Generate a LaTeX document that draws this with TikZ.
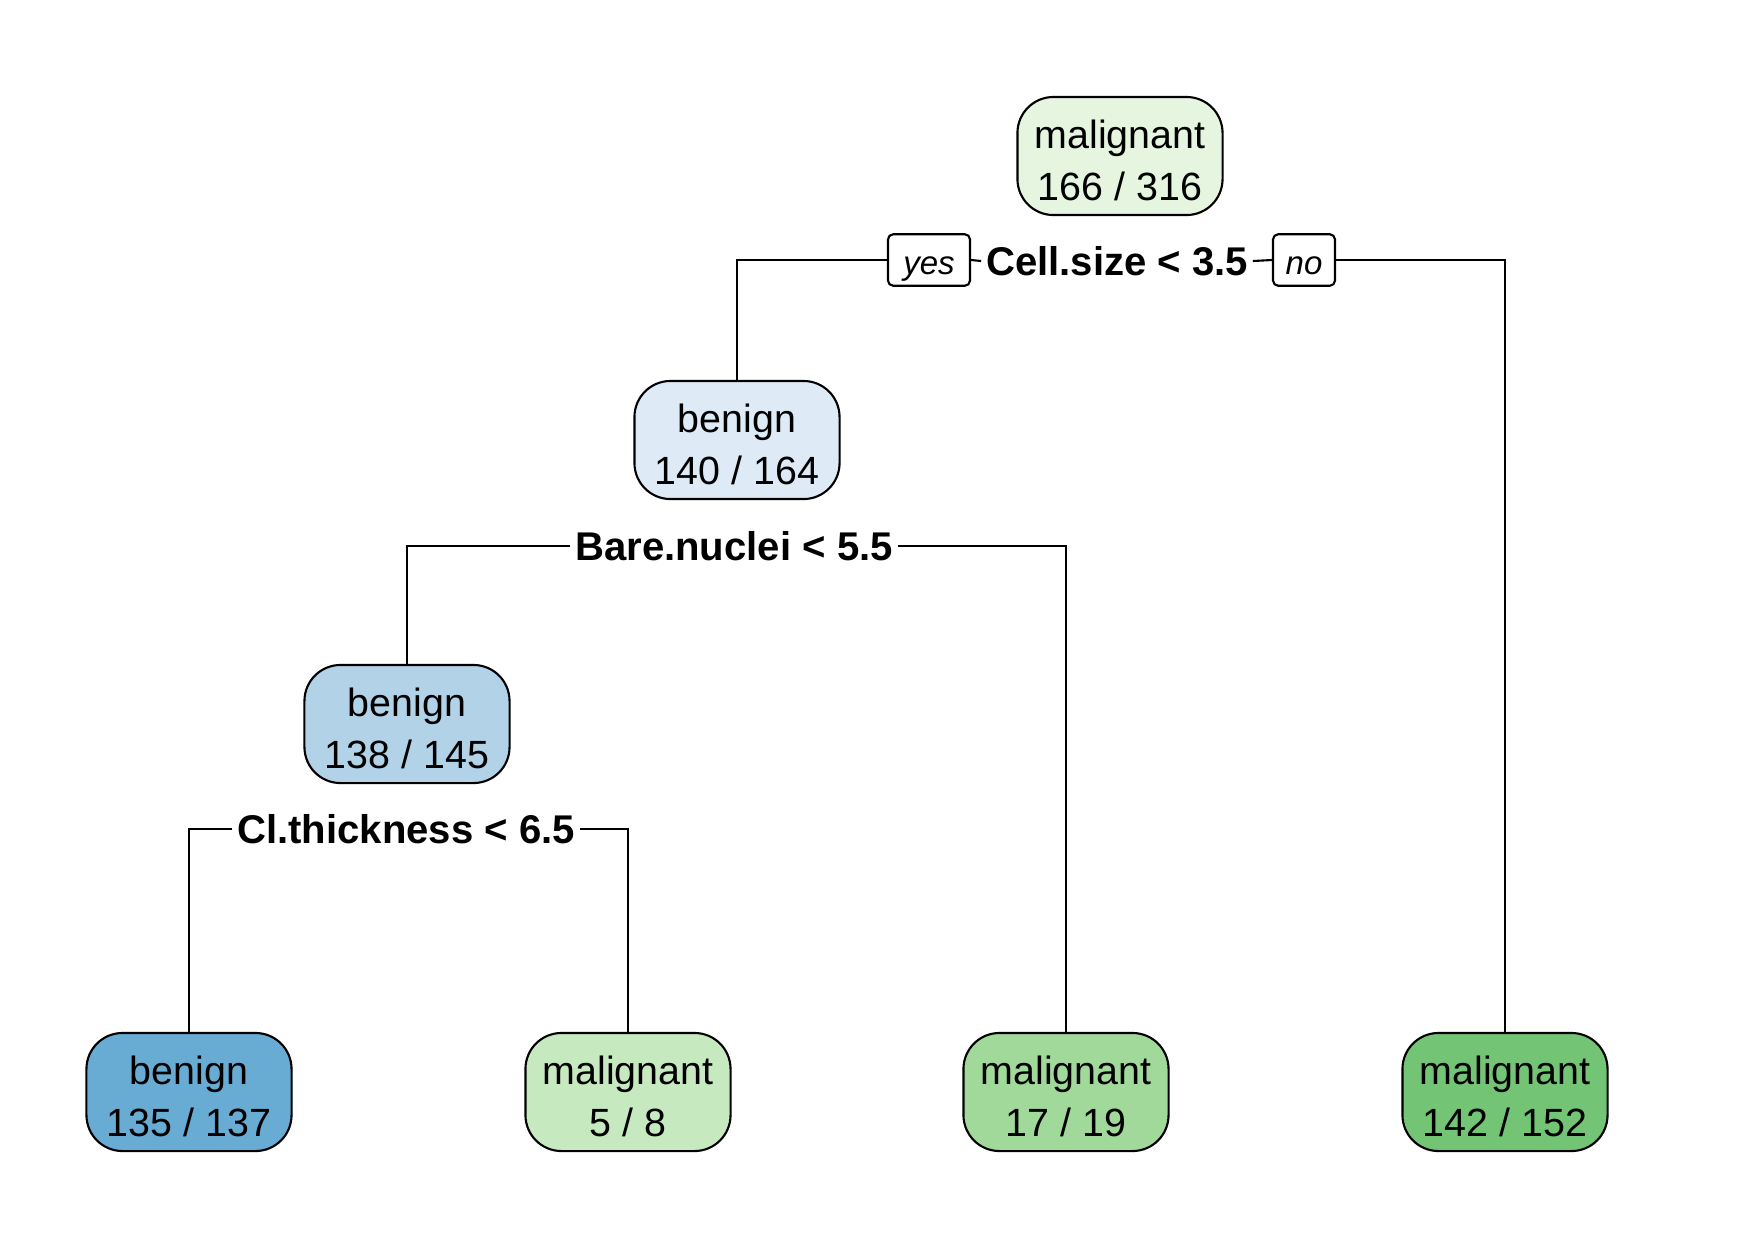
\documentclass[tikz,border=0pt]{standalone}
\usepackage{fontspec}
\setmainfont{Liberation Sans}
\definecolor{cRoot}{RGB}{229,245,224}
\definecolor{cBa}{RGB}{222,235,247}
\definecolor{cBb}{RGB}{178,210,232}
\definecolor{cBc}{RGB}{104,172,212}
\definecolor{cMa}{RGB}{199,233,192}
\definecolor{cMb}{RGB}{161,217,155}
\definecolor{cMc}{RGB}{116,196,118}
\newcommand\twolines[2]{\rule{0pt}{10.4pt}#1\\#2}
\tikzset{
  treenode/.style={draw=black, line width=0.6pt, rounded corners=0.36cm,
    minimum width=2.05cm, minimum height=1.18cm, inner sep=0pt, align=center,
    font=\fontsize{11.2}{14.8}\selectfont},
  splitlabel/.style={inner xsep=1.2pt, inner ysep=1pt, font=\fontsize{11.4}{13}\selectfont\bfseries},
  yesno/.style={draw=black, line width=0.6pt, rounded corners=1.5pt,
    minimum height=0.51cm, inner xsep=3pt, text height=8pt, text depth=0pt,
    font=\fontsize{9.4}{11}\selectfont\itshape},
  conn/.style={line width=0.6pt, draw=black}
}
\begin{document}
\begin{tikzpicture}[x=0.01cm, y=-0.01cm]
\useasboundingbox (0,0) rectangle (1754,1241);
\node[treenode, fill=cRoot] (root) at (1120,156) {\twolines{malignant}{166 / 316}};
\node[splitlabel] (s1) at (1117,261) {Cell.size < 3.5};
\node[yesno, minimum width=0.82cm] (yes) at (929,260) {yes};
\node[yesno, minimum width=0.62cm] (no) at (1304,260) {no};
\node[treenode, fill=cBa] (b1) at (737,440) {\twolines{benign}{140 / 164}};
\node[splitlabel] (s2) at (734,546) {Bare.nuclei < 5.5};
\node[treenode, fill=cBb] (b2) at (407,724) {\twolines{benign}{138 / 145}};
\node[splitlabel] (s3) at (406,829) {Cl.thickness < 6.5};
\node[treenode, fill=cBc] (l1) at (189,1092) {\twolines{benign}{135 / 137}};
\node[treenode, fill=cMa] (l2) at (628,1092) {\twolines{malignant}{5 / 8}};
\node[treenode, fill=cMb] (l3) at (1066,1092) {\twolines{malignant}{17 / 19}};
\node[treenode, fill=cMc] (l4) at (1505,1092) {\twolines{malignant}{142 / 152}};
\draw[conn] (s1.west) -- (yes.east);
\draw[conn] (yes.west) -| (b1.north);
\draw[conn] (s1.east) -- (no.west);
\draw[conn] (no.east) -| (l4.north);
\draw[conn] (s2.west) -| (b2.north);
\draw[conn] (s2.east) -| (l3.north);
\draw[conn] (s3.west) -| (l1.north);
\draw[conn] (s3.east) -| (l2.north);
\end{tikzpicture}
\end{document}
